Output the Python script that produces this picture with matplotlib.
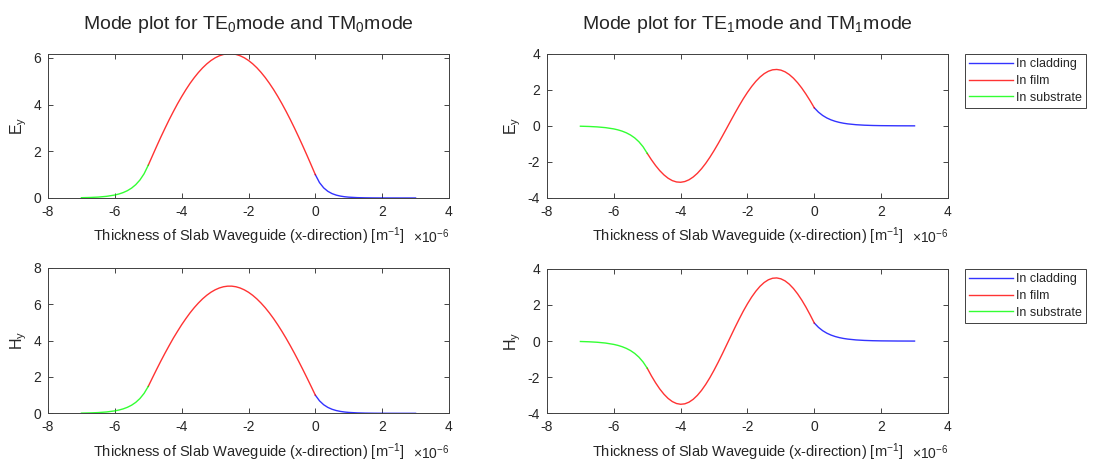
import numpy as np
import matplotlib
matplotlib.use('Agg')
import matplotlib.pyplot as plt

plt.rcParams['font.family'] = ['Liberation Sans', 'DejaVu Sans']
plt.rcParams['mathtext.fontset'] = 'custom'
plt.rcParams['mathtext.rm'] = 'Liberation Sans'
plt.rcParams['mathtext.default'] = 'regular'
plt.rcParams['axes.unicode_minus'] = False
plt.rcParams['text.color'] = '#262626'
plt.rcParams['axes.labelcolor'] = '#262626'
plt.rcParams['xtick.color'] = '#262626'
plt.rcParams['ytick.color'] = '#262626'

# positions across the slab (x 1e-6 m)
x_substrate = [-7.0, -6.75, -6.5, -6.25, -6.0, -5.875, -5.75, -5.625, -5.5, -5.375, -5.25, -5.125, -5.0]
x_film = [-5.0, -4.875, -4.75, -4.625, -4.5, -4.375, -4.25, -4.125, -4.0, -3.875, -3.75, -3.625, -3.5,
          -3.375, -3.25, -3.125, -3.0, -2.875, -2.75, -2.625, -2.5, -2.375, -2.25, -2.125, -2.0,
          -1.875, -1.75, -1.625, -1.5, -1.375, -1.25, -1.125, -1.0, -0.875, -0.75, -0.625, -0.5,
          -0.375, -0.25, -0.125, 0.0]
x_cladding = [0.0, 0.125, 0.25, 0.375, 0.5, 0.625, 0.75, 0.875, 1.0, 1.25, 1.5, 1.75, 2.0, 2.5, 3.0]

# TE0 / TM0 field
te0_ey_sub = [0.012, 0.021, 0.038, 0.070, 0.127, 0.172, 0.232, 0.313, 0.422, 0.570, 0.769, 1.037, 1.404]
te0_ey_film = [1.404, 1.809, 2.211, 2.605, 2.982, 3.351, 3.698, 4.033, 4.343, 4.636, 4.908, 5.152, 5.374,
               5.571, 5.742, 5.886, 6.002, 6.089, 6.148, 6.177, 6.178, 6.149, 6.091, 6.005, 5.890,
               5.747, 5.578, 5.381, 5.160, 4.913, 4.645, 4.353, 4.041, 3.710, 3.362, 2.997, 2.618,
               2.228, 1.827, 1.417, 1.000]
te0_ey_clad = [1.000, 0.658, 0.433, 0.285, 0.187, 0.123, 0.081, 0.053, 0.035, 0.015, 0.0066, 0.0028, 0.0012, 0.0002, 0.0]

te0_hy_sub = [0.012, 0.022, 0.041, 0.074, 0.135, 0.182, 0.245, 0.331, 0.446, 0.602, 0.813, 1.097, 1.482]
te0_hy_film = [1.482, 1.953, 2.417, 2.871, 3.307, 3.726, 4.135, 4.511, 4.876, 5.211, 5.527, 5.812, 6.068,
               6.298, 6.495, 6.662, 6.795, 6.896, 6.964, 6.997, 6.998, 6.964, 6.896, 6.794, 6.661,
               6.494, 6.296, 6.067, 5.811, 5.524, 5.213, 4.874, 4.512, 4.129, 3.725, 3.304, 2.867,
               2.415, 1.952, 1.480, 1.000]
te0_hy_clad = [1.000, 0.687, 0.472, 0.325, 0.223, 0.153, 0.105, 0.072, 0.050, 0.024, 0.011, 0.0055, 0.0025, 0.0006, 0.0001]

# TE1 / TM1 field
te1_ey_sub = [-0.019, -0.033, -0.057, -0.098, -0.169, -0.223, -0.293, -0.386, -0.508, -0.668, -0.880, -1.158, -1.525]
te1_ey_film = [-1.525, -1.879, -2.201, -2.484, -2.719, -2.905, -3.037, -3.111, -3.129, -3.088, -2.991, -2.837, -2.633,
               -2.377, -2.080, -1.741, -1.371, -0.977, -0.564, -0.141, 0.285, 0.707, 1.114, 1.503, 1.860,
               2.184, 2.469, 2.707, 2.896, 3.030, 3.109, 3.129, 3.092, 2.998, 2.848, 2.645, 2.393,
               2.097, 1.761, 1.394, 1.000]
te1_ey_clad = [1.000, 0.760, 0.577, 0.438, 0.333, 0.253, 0.192, 0.146, 0.111, 0.064, 0.037, 0.021, 0.012, 0.004, 0.001]

te1_hy_sub = [-0.022, -0.038, -0.064, -0.108, -0.184, -0.239, -0.311, -0.404, -0.525, -0.683, -0.888, -1.155, -1.502]
te1_hy_film = [-1.502, -1.926, -2.310, -2.652, -2.942, -3.176, -3.349, -3.457, -3.499, -3.474, -3.382, -3.225, -3.006,
               -2.730, -2.400, -2.025, -1.610, -1.165, -0.698, -0.215, 0.268, 0.750, 1.214, 1.660, 2.067,
               2.438, 2.761, 3.033, 3.245, 3.395, 3.480, 3.498, 3.449, 3.334, 3.154, 2.913, 2.617,
               2.271, 1.881, 1.454, 1.000]
te1_hy_clad = [1.000, 0.760, 0.577, 0.438, 0.333, 0.253, 0.192, 0.146, 0.111, 0.064, 0.037, 0.021, 0.012, 0.004, 0.001]

region_labels = ['In cladding', 'In film', 'In substrate']
region_colors = ['#0000ff', '#ff0000', '#00ff00']
xlabel_text = 'Thickness of Slab Waveguide (x-direction) [m$^{-1}$]'

panels = [
    # position, title, ylabel, (sub, film, clad), ylim, yticks, legend
    ([0.0439, 0.5724, 0.3665, 0.3115], 'Mode plot for TE$_0$mode and TM$_0$mode', 'E$_y$',
     (te0_ey_sub, te0_ey_film, te0_ey_clad), (0, max(te0_ey_film)), [0, 2, 4, 6], False),
    ([0.5000, 0.5724, 0.3665, 0.3115], 'Mode plot for TE$_1$mode and TM$_1$mode', 'E$_y$',
     (te1_ey_sub, te1_ey_film, te1_ey_clad), (-4, 4), [-4, -2, 0, 2, 4], True),
    ([0.0439, 0.1073, 0.3665, 0.3140], None, 'H$_y$',
     (te0_hy_sub, te0_hy_film, te0_hy_clad), (0, 8), [0, 2, 4, 6, 8], False),
    ([0.5000, 0.1073, 0.3665, 0.3120], None, 'H$_y$',
     (te1_hy_sub, te1_hy_film, te1_hy_clad), (-4, 4), [-4, -2, 0, 2, 4], True),
]

fig = plt.figure(figsize=(10.94, 4.63), dpi=100)

for pos, title, ylabel, (sub, film, clad), ylim, yticks, show_legend in panels:
    ax = fig.add_axes(pos)
    ax.plot(x_cladding, clad, color=region_colors[0], lw=1.0, alpha=0.8, label=region_labels[0])
    ax.plot(x_film, film, color=region_colors[1], lw=1.0, alpha=0.8, label=region_labels[1])
    ax.plot(x_substrate, sub, color=region_colors[2], lw=1.0, alpha=0.8, label=region_labels[2])

    ax.set_xlim(-8, 4)
    ax.set_xticks([-8, -6, -4, -2, 0, 2, 4])
    ax.set_ylim(*ylim)
    ax.set_yticks(yticks)
    ax.tick_params(direction='in', top=True, right=True, length=3.5, width=0.6,
                   labelsize=10, pad=5)
    for sp in ax.spines.values():
        sp.set_color('#404040')
        sp.set_linewidth(0.7)

    ax.set_xlabel(xlabel_text, fontsize=10.5, labelpad=5)
    ax.set_ylabel(ylabel, fontsize=11.5, labelpad=3)
    ax.text(1.0, -0.27, r'$\times10^{-6}$', transform=ax.transAxes,
            ha='right', va='center', fontsize=10)
    if title:
        ax.set_title(title, fontsize=14, pad=18)
    if show_legend:
        leg = ax.legend(loc='upper left', bbox_to_anchor=(1.042, 1.0), fontsize=9,
                        frameon=True, fancybox=False, framealpha=1, edgecolor='#404040',
                        handlelength=3.5, handletextpad=0.25, labelspacing=0.38,
                        borderpad=0.35, borderaxespad=0)
        leg.get_frame().set_linewidth(0.7)

fig.savefig('out.png', dpi=100)
